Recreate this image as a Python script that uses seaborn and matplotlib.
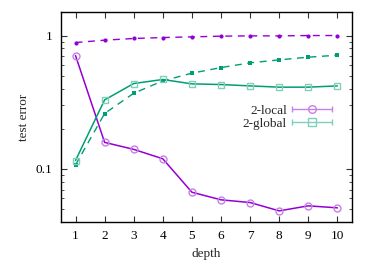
import numpy as np
import matplotlib
matplotlib.use("Agg")
import matplotlib.pyplot as plt
import matplotlib.ticker as mticker
from matplotlib.legend_handler import HandlerErrorbar
import seaborn as sns

depth = [1, 2, 3, 4, 5, 6, 7, 8, 9, 10]
local_err = [0.708, 0.158, 0.140, 0.119, 0.0668, 0.0586, 0.0559, 0.0484, 0.0528, 0.0510]
global_err = [0.1155, 0.329, 0.4365, 0.468, 0.434, 0.429, 0.419, 0.410, 0.410, 0.419]
local_train = [0.886, 0.923, 0.950, 0.966, 0.977, 0.989, 0.994, 0.994, 1.0, 1.0]
global_train = [0.107, 0.260, 0.369, 0.457, 0.522, 0.575, 0.624, 0.657, 0.688, 0.712]

purple = "#9400d3"
green = "#009e73"
purple_l = "#c77fe9"
green_l = "#7fcfb9"

sns.set_style("ticks")
plt.rcParams["font.family"] = ["Liberation Serif", "DejaVu Serif"]

fig, ax = plt.subplots(figsize=(3.74, 2.62), dpi=100)
fig.subplots_adjust(left=0.163, right=0.941, bottom=0.153, top=0.954)

# dashed series with small filled marks
sns.lineplot(x=depth, y=local_train, ax=ax, color=purple, lw=1.0,
             linestyle=(0, (5, 4)), marker="o", markersize=3.0, markeredgewidth=0)
sns.lineplot(x=depth, y=global_train, ax=ax, color=green, lw=1.0,
             linestyle=(0, (5, 4)), marker="s", markersize=3.0, markeredgewidth=0)

# main series
sns.lineplot(x=depth, y=local_err, ax=ax, color=purple, lw=1.1, marker="o",
             markersize=5.0, markerfacecolor="none", markeredgecolor=purple_l, markeredgewidth=1.0)
sns.lineplot(x=depth, y=global_err, ax=ax, color=green, lw=1.1, marker="s",
             markersize=5.0, markerfacecolor="none", markeredgecolor=green_l, markeredgewidth=1.0)

ax.set_yscale("log")
ax.set_xlim(0.5, 10.5)
ax.set_ylim(0.040, 1.5)
ax.set_xticks(depth)
ax.yaxis.set_major_locator(mticker.FixedLocator([0.1, 1]))
ax.yaxis.set_major_formatter(mticker.FixedFormatter(["0.1", "1"]))
ax.yaxis.set_minor_locator(mticker.FixedLocator(
    [0.04, 0.05, 0.06, 0.07, 0.08, 0.09, 0.2, 0.3, 0.4, 0.5, 0.6, 0.7, 0.8, 0.9]))
ax.yaxis.set_minor_formatter(mticker.NullFormatter())

ax.tick_params(axis="both", which="both", direction="in", top=True, right=True,
               labelsize=9.5, colors="#333333", labelcolor="black")
ax.tick_params(which="major", length=4, pad=6)
ax.tick_params(which="minor", length=2)
for s in ax.spines.values():
    s.set_visible(True)
    s.set_color("black")
    s.set_linewidth(1.0)

ax.set_xlabel("depth", fontsize=9.5, labelpad=4)
ax.set_ylabel("test error", fontsize=9.5, labelpad=4)

# legend with error-bar style keys
h1 = ax.errorbar([np.nan], [np.nan], xerr=[np.nan], color=purple_l, lw=0, capsize=2.5,
                 marker="o", markersize=5.5, markerfacecolor="none",
                 markeredgecolor=purple_l, ecolor=purple_l, elinewidth=1.0, capthick=1.0)
h2 = ax.errorbar([np.nan], [np.nan], xerr=[np.nan], color=green_l, lw=0, capsize=2.5,
                 marker="s", markersize=5.5, markerfacecolor="none",
                 markeredgecolor=green_l, ecolor=green_l, elinewidth=1.0, capthick=1.0)
ax.legend([h1, h2], ["2-local", "2-global"], loc="center right",
          bbox_to_anchor=(0.935, 0.50), frameon=False, markerfirst=False,
          fontsize=9.5, handlelength=3.2, handletextpad=0.3, labelspacing=0.05,
          borderaxespad=0, borderpad=0,
          handler_map={type(h1): HandlerErrorbar(xerr_size=1.5)})

fig.savefig("out.png", dpi=100)
